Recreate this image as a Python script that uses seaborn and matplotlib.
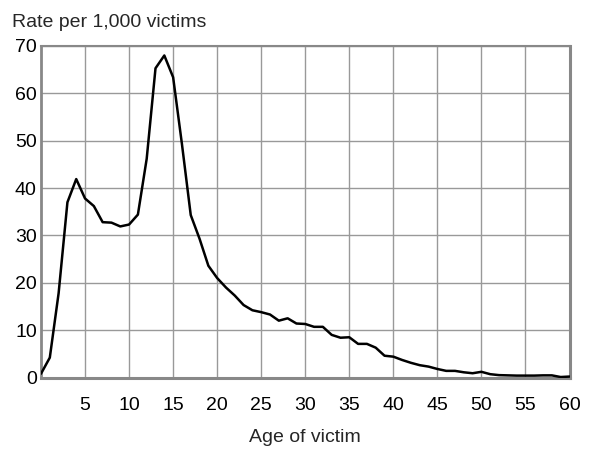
import numpy as np
import pandas as pd
import matplotlib
matplotlib.use("Agg")
import matplotlib.pyplot as plt
import seaborn as sns

# rate per 1,000 victims by age
ages = list(range(0, 61))
rates = [0.8, 4.2, 17.8, 37.0, 41.9, 37.8, 36.2, 32.8, 32.7, 31.9,
         32.3, 34.4, 46.2, 65.3, 68.0, 63.4, 49.3, 34.3, 29.3, 23.6,
         21.0, 19.0, 17.3, 15.3, 14.2, 13.8, 13.3, 12.0, 12.5, 11.4,
         11.3, 10.7, 10.7, 9.0, 8.4, 8.5, 7.1, 7.1, 6.3, 4.6,
         4.4, 3.7, 3.1, 2.6, 2.3, 1.8, 1.4, 1.4, 1.1, 0.9,
         1.2, 0.7, 0.5, 0.45, 0.4, 0.4, 0.4, 0.45, 0.45, 0.1,
         0.2]
xticks = [5, 10, 15, 20, 25, 30, 35, 40, 45, 50, 55, 60]
yticks = [0, 10, 20, 30, 40, 50, 60, 70]

df = pd.DataFrame({"age": ages, "rate": rates})

sns.set_style("white")
plt.rcParams['font.family'] = ['Liberation Sans', 'DejaVu Sans']

fig = plt.figure(figsize=(5.93, 4.51), dpi=100)
ax = fig.add_axes([41/593, 1 - 377.5/451, 528.5/593, 331.5/451])

sns.lineplot(data=df, x="age", y="rate", color="black", linewidth=1.8, ax=ax, zorder=3)

ax.set_xlim(0, 60)
ax.set_ylim(0, 70)
ax.set_xticks(xticks)
ax.set_yticks(yticks)
ax.grid(True, color="#999999", linewidth=1.0)
ax.set_axisbelow(True)
for side, lw in [("left", 2.0), ("bottom", 2.2), ("right", 2.2), ("top", 1.5)]:
    ax.spines[side].set_visible(True)
    ax.spines[side].set_color("#888888")
    ax.spines[side].set_linewidth(lw)

ax.tick_params(axis="x", length=0, pad=14, labelsize=14, colors="black")
ax.tick_params(axis="y", length=0, pad=3, labelsize=14, colors="black")
ax.set_xlabel("Age of victim", fontsize=14, labelpad=11)
ax.set_ylabel("")

fig.text(12/593, 1 - 27/451, "Rate per 1,000 victims", fontsize=14, va="baseline", ha="left")

fig.savefig("out.png", dpi=100)
